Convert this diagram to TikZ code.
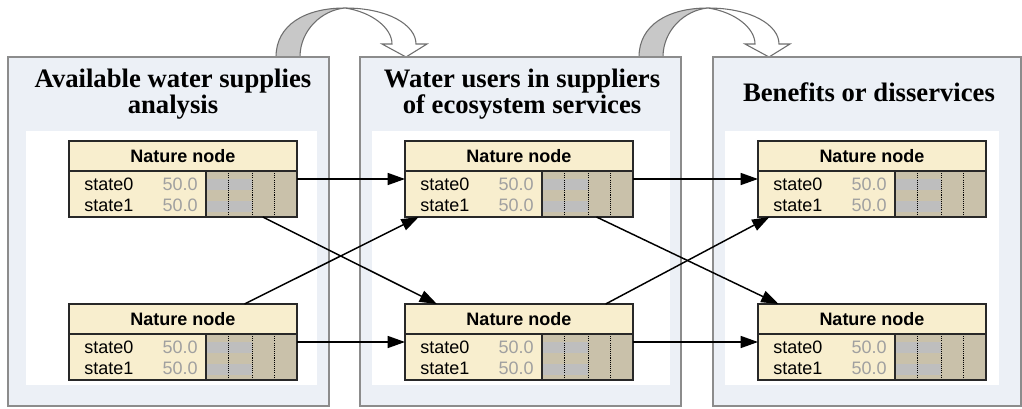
\documentclass[tikz,border=0pt]{standalone}
\usepackage{fontspec}
\setmainfont{Liberation Serif}
\setsansfont{Liberation Sans}
\usetikzlibrary{arrows.meta,calc}

\definecolor{panelbg}{RGB}{236,240,246}
\definecolor{panelline}{RGB}{140,140,140}
\definecolor{nodecream}{RGB}{248,238,206}
\definecolor{bartan}{RGB}{201,193,170}
\definecolor{bargray}{RGB}{190,190,190}
\definecolor{valgray}{RGB}{160,160,160}
\definecolor{boxline}{RGB}{40,40,40}
\definecolor{arcgray}{RGB}{200,200,200}
\definecolor{arcline}{RGB}{110,110,110}

\tikzset{
  panel/.style={draw=panelline, fill=panelbg, line width=0.9pt},
  natbox/.style={fill=nodecream, minimum width=171pt, minimum height=57pt,
    inner sep=0pt, outer sep=0pt, anchor=north west},
  boxedge/.style={draw=boxline, line width=1.1pt},
  dots/.style={black, line width=0.7pt, dash pattern=on 0.8pt off 0.8pt},
  title/.style={font=\bfseries\fontsize{20}{20}\selectfont, anchor=base, inner sep=0pt},
  headtext/.style={font=\sffamily\bfseries\fontsize{13.5}{13.5}\selectfont, anchor=base, inner sep=0pt},
  statetext/.style={font=\sffamily\fontsize{13.5}{13.5}\selectfont, anchor=base west, inner sep=0pt},
  valtext/.style={font=\sffamily\fontsize{13.5}{13.5}\selectfont, text=valgray, anchor=base east, inner sep=0pt},
  link/.style={black, line width=1.1pt, -{Triangle[length=13pt, width=9pt]}},
  bigarc/.style={draw=arcline, line width=0.8pt}
}

% one netica style node, top left corner at (#2,#3)
\newcommand{\naturenode}[3]{%
  \node[natbox] (#1) at (#2,#3) {};
  \begin{scope}[shift={(#1.north west)}]
    \fill[bartan] (137,30) rectangle (228,76);
    \fill[bargray] (137,38) rectangle (183,49);
    \fill[bargray] (137,60) rectangle (183,71);
    \draw[dots] (159,30) -- (159,76);
    \draw[dots] (183,30) -- (183,76);
    \draw[dots] (205,30) -- (205,76);
    \draw[boxedge] (0,30) -- (228,30);
    \draw[boxedge] (137,30) -- (137,76);
    \node[headtext] (#1-h) at (114,21) {Nature node};
    \node[statetext] (#1-s0) at (15,49) {state0};
    \node[statetext] (#1-s1) at (15,70) {state1};
    \node[valtext] (#1-v0) at (129,49) {50.0};
    \node[valtext] (#1-v1) at (129,70) {50.0};
  \end{scope}
  \draw[boxedge] (#1.north west) rectangle (#1.south east);
}

\begin{document}
\begin{tikzpicture}[x=0.75pt, y=-0.75pt]
  \useasboundingbox (0,0) rectangle (1022,408);

  % curved arrows between the panels
  \filldraw[bigarc, fill=arcgray] (276,57) .. controls (276,25) and (305,8) .. (345,8)
    .. controls (322,10) and (300,30) .. (300,57) -- cycle;
  \filldraw[bigarc, fill=white] (345,8) .. controls (388,8) and (416,25) .. (416,44)
    -- (427,44) -- (406,57) -- (382,44) -- (392,44)
    .. controls (392,28) and (372,12) .. (345,8) -- cycle;
  \begin{scope}[shift={(363,0)}]
    \filldraw[bigarc, fill=arcgray] (276,57) .. controls (276,25) and (305,8) .. (345,8)
      .. controls (322,10) and (300,30) .. (300,57) -- cycle;
    \filldraw[bigarc, fill=white] (345,8) .. controls (388,8) and (416,25) .. (416,44)
      -- (427,44) -- (406,57) -- (382,44) -- (392,44)
      .. controls (392,28) and (372,12) .. (345,8) -- cycle;
  \end{scope}

  % panels
  \filldraw[panel] (8,57) rectangle (329,406);
  \fill[white] (26,131) rectangle (317,385);
  \filldraw[panel] (360,57) rectangle (681,406);
  \fill[white] (372,131) rectangle (670,385);
  \filldraw[panel] (713,57) rectangle (1021,406);
  \fill[white] (725,131) rectangle (999,385);

  \node[title] (t1a) at (173,87) {Available water supplies};
  \node[title] (t1b) at (173,113) {analysis};
  \node[title] (t2a) at (522,87) {Water users in suppliers};
  \node[title] (t2b) at (522,113) {of ecosystem services};
  \node[title] (t3) at (869,101) {Benefits or disservices};

  % nodes
  \naturenode{a1}{69}{141}
  \naturenode{a2}{69}{304}
  \naturenode{b1}{405}{141}
  \naturenode{b2}{405}{304}
  \naturenode{c1}{758}{141}
  \naturenode{c2}{758}{304}

  % links
  \draw[link] (a1.east) -- (b1.west);
  \draw[link] (a2.east) -- (b2.west);
  \draw[link] ($(a1.south west)!0.85!(a1.south east)$) -- ($(b2.north west)!0.14!(b2.north east)$);
  \draw[link] ($(a2.north west)!0.77!(a2.north east)$) -- ($(b1.south west)!0.06!(b1.south east)$);
  \draw[link] (b1.east) -- (c1.west);
  \draw[link] (b2.east) -- (c2.west);
  \draw[link] ($(b1.south west)!0.84!(b1.south east)$) -- ($(c2.north west)!0.09!(c2.north east)$);
  \draw[link] ($(b2.north west)!0.88!(b2.north east)$) -- ($(c1.south west)!0.05!(c1.south east)$);

\end{tikzpicture}
\end{document}
